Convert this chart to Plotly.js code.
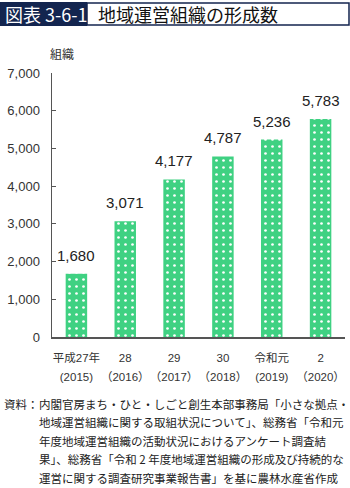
<!DOCTYPE html>
<html>
<head>
<meta charset="utf-8">
<script src="https://cdn.plot.ly/plotly-3.0.1.min.js"></script>
<style>
html,body{margin:0;padding:0;background:#fff;}
#chart{width:350px;height:488px;}
</style>
</head>
<body>
<div id="chart"></div>
<script>
const eraLabels = ["平成27年", "28", "29", "30", "令和元", "2"];
const yearLabels = ["(2015)", "（2016）", "（2017）", "（2018）", "(2019)", "（2020）"];
const values = [1680, 3071, 4177, 4787, 5236, 5783];
const valueLabels = ["1,680", "3,071", "4,177", "4,787", "5,236", "5,783"];
const yTickVals = [0, 1000, 2000, 3000, 4000, 5000, 6000, 7000];
const yTickText = ["0", "1,000", "2,000", "3,000", "4,000", "5,000", "6,000", "7,000"];
const figNo = "図表 3-6-1";
const titleText = "地域運営組織の形成数";
const yUnit = "組織";
const sourceHead = "資料：";
const sourceLines = [
  "内閣官房まち・ひと・しごと創生本部事務局「小さな拠点・",
  "地域運営組織に関する取組状況について」、総務省「令和元",
  "年度地域運営組織の活動状況におけるアンケート調査結",
  "果」、総務省「令和 2 年度地域運営組織の形成及び持続的な",
  "運営に関する調査研究事業報告書」を基に農林水産省作成"
];

const categories = eraLabels.map((e, i) => e + " " + yearLabels[i]);
const sp = t => "<span style='font-size:11.5px'>" + t + "</span>";
const xTickText = eraLabels.map((e, i) => sp(e) + "<br>" + sp(yearLabels[i]));

const W = 350, H = 488;
const L = 52, R = 5, T = 73, B = 151;
const PW = W - L - R, PH = H - T - B;
const px = v => (v - L) / PW;
const py = v => (H - B - v) / PH;

const green = "#3fd182";
const navy = "#13254f";
const jp = "'Noto Sans CJK JP', sans-serif";
const num = "'Liberation Sans', 'Noto Sans CJK JP', sans-serif";

const trace = {
  type: "bar",
  x: categories,
  y: values,
  marker: {
    color: green,
    line: {width: 0},
    pattern: {shape: ".", fgcolor: "#ffffff", bgcolor: green, size: 7, solidity: 0.12, fillmode: "replace"}
  },
  hoverinfo: "skip"
};

const annotations = values.map((v, i) => ({
  x: categories[i], y: v, xref: "x", yref: "y",
  text: valueLabels[i], showarrow: false,
  yanchor: "bottom", yshift: 8,
  font: {family: num, size: 15, color: "#222"}
}));

annotations.push({
  xref: "paper", yref: "paper", x: px(3), y: py(14), xanchor: "left", yanchor: "middle",
  text: figNo, showarrow: false, font: {family: jp, size: 18, color: "#ffffff"}
});
annotations.push({
  xref: "paper", yref: "paper", x: px(96), y: py(14), xanchor: "left", yanchor: "middle",
  text: titleText, showarrow: false, font: {family: jp, size: 18, color: "#111"}
});
annotations.push({
  xref: "paper", yref: "paper", x: px(48), y: py(53), xanchor: "left", yanchor: "middle",
  text: yUnit, showarrow: false, font: {family: jp, size: 12, color: "#333"}
});
annotations.push({
  xref: "paper", yref: "paper", x: px(2), y: py(404), xanchor: "left", yanchor: "middle",
  text: sourceHead, showarrow: false, font: {family: jp, size: 11.5, color: "#222"}
});
sourceLines.forEach((s, i) => {
  annotations.push({
    xref: "paper", yref: "paper", x: px(37), y: py(404 + i * 18.5), xanchor: "left", yanchor: "middle",
    text: s, showarrow: false, font: {family: jp, size: 11.5, color: "#222"}
  });
});

const shapes = [
  {type: "rect", xref: "paper", yref: "paper", x0: px(0), x1: px(87), y0: py(2.5), y1: py(25.5),
   fillcolor: navy, line: {color: navy, width: 1}, layer: "below"},
  {type: "rect", xref: "paper", yref: "paper", x0: px(87), x1: px(349), y0: py(3), y1: py(25),
   fillcolor: "#ffffff", line: {color: navy, width: 1.5}, layer: "below"}
];

const layout = {
  width: W, height: H,
  margin: {l: L, r: R, t: T, b: B, pad: 0},
  paper_bgcolor: "#ffffff", plot_bgcolor: "#ffffff",
  showlegend: false,
  bargap: 0.56,
  font: {family: num, color: "#333"},
  xaxis: {
    type: "category",
    tickvals: categories, ticktext: xTickText,
    showline: true, linecolor: "#555", linewidth: 1.5,
    ticks: "", showgrid: false, zeroline: false,
    tickangle: 0,
    tickfont: {family: num, size: 14, color: "#333"},
    ticklabelstandoff: 7
  },
  yaxis: {
    range: [0, 7000], tickvals: yTickVals, ticktext: yTickText,
    showline: true, linecolor: "#555", linewidth: 1.5,
    ticks: "inside", ticklen: 4, tickcolor: "#555", tickwidth: 1,
    showgrid: false, zeroline: false,
    tickfont: {family: num, size: 13, color: "#333"},
    ticklabelstandoff: 8
  },
  annotations: annotations,
  shapes: shapes
};

Plotly.newPlot("chart", [trace], layout, {displayModeBar: false, staticPlot: true});
</script>
</body>
</html>
